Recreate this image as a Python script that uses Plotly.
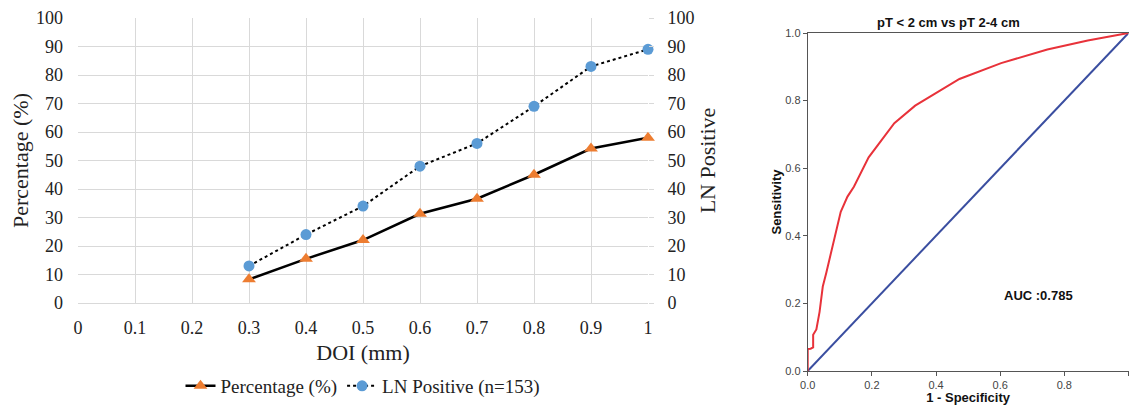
import plotly.graph_objects as go

# ---- Left panel data ----
doi = [0.3, 0.4, 0.5, 0.6, 0.7, 0.8, 0.9, 1.0]
percentage = [8.3, 15.5, 22.1, 31.3, 36.6, 45.0, 54.2, 58.0]
ln_positive = [13, 24, 34, 48, 56, 69, 83, 89]
x_ticks = [0, 0.1, 0.2, 0.3, 0.4, 0.5, 0.6, 0.7, 0.8, 0.9, 1.0]
x_tick_labels = ["0", "0.1", "0.2", "0.3", "0.4", "0.5", "0.6", "0.7", "0.8", "0.9", "1"]
y_ticks = [0, 10, 20, 30, 40, 50, 60, 70, 80, 90, 100]

# ---- Right panel (ROC) data ----
roc_fpr = [0.0, 0.0, 0.009, 0.017, 0.017, 0.027, 0.037, 0.047, 0.058, 0.103,
           0.124, 0.144, 0.19, 0.27, 0.335, 0.473, 0.603, 0.747, 0.873, 1.0]
roc_tpr = [0.0, 0.065, 0.066, 0.07, 0.107, 0.123, 0.175, 0.25, 0.291, 0.471,
           0.516, 0.545, 0.632, 0.733, 0.785, 0.864, 0.911, 0.951, 0.978, 1.0]
ref_line = [0.0, 1.0]
roc_ticks = [0.0, 0.2, 0.4, 0.6, 0.8, 1.0]

# page body has an 8px margin on every side; size the figure to fit inside it
OFF = 8
W, H = 1137 - 2 * OFF, 413 - 2 * OFF
def px_x(p):
    return (p - OFF) / W
def px_y(p):
    return (H - (p - OFF)) / H

serif = "Liberation Serif"
sans = "Liberation Sans"

fig = go.Figure()

fig.add_trace(go.Scatter(
    x=doi, y=percentage, name="Percentage (%)", mode="lines+markers",
    line=dict(color="#000000", width=2.5),
    marker=dict(symbol="triangle-up", color="#ed7d31", size=12),
    cliponaxis=False, xaxis="x", yaxis="y"))
fig.add_trace(go.Scatter(
    x=doi, y=ln_positive, name="LN Positive (n=153)", mode="lines+markers",
    line=dict(color="#000000", width=2, dash="dot"),
    marker=dict(symbol="circle", color="#5b9bd5", size=11),
    cliponaxis=False, xaxis="x", yaxis="y2"))

fig.add_trace(go.Scatter(
    x=ref_line, y=ref_line, mode="lines", showlegend=False,
    line=dict(color="#3a4ea0", width=2), xaxis="x3", yaxis="y3"))
fig.add_trace(go.Scatter(
    x=roc_fpr, y=roc_tpr, mode="lines", showlegend=False,
    line=dict(color="#e8323a", width=2), xaxis="x3", yaxis="y3"))

grid = "#d9d9d9"
left_dom_x = [px_x(78), px_x(648)]
left_dom_y = [px_y(303), px_y(18)]

fig.update_layout(
    width=W, height=H,
    margin=dict(l=0, r=0, t=0, b=0, autoexpand=False),
    paper_bgcolor="white", plot_bgcolor="white",
    showlegend=True,
    legend=dict(orientation="h", x=px_x(363), xanchor="center",
                y=px_y(386), yanchor="middle",
                font=dict(family=serif, size=19, color="#222"),
                itemwidth=30, bgcolor="rgba(0,0,0,0)"),
    xaxis=dict(domain=left_dom_x, anchor="y", range=[0, 1], automargin=False,
               tickvals=x_ticks, ticktext=x_tick_labels,
               showgrid=True, gridcolor=grid, gridwidth=1,
               zeroline=False, showline=True, linecolor=grid,
               ticks="", ticklabelstandoff=8,
               tickfont=dict(family=serif, size=18, color="#222"),
               title=dict(text="DOI (mm)", standoff=8,
                          font=dict(family=serif, size=22, color="#222"))),
    yaxis=dict(domain=left_dom_y, anchor="x", range=[0, 100], automargin=False,
               tickvals=y_ticks,
               showgrid=True, gridcolor=grid, gridwidth=1,
               zeroline=False, showline=False,
               ticks="", ticklabelstandoff=14,
               tickfont=dict(family=serif, size=18, color="#222"),
               title=dict(text="Percentage (%)", standoff=4,
                          font=dict(family=serif, size=22, color="#222"))),
    yaxis2=dict(overlaying="y", side="right", anchor="x", range=[0, 100],
                automargin=False,
                tickvals=y_ticks, showgrid=False, zeroline=False,
                showline=False, ticks="outside", ticklen=5, tickcolor=grid,
                ticklabelstandoff=10,
                tickfont=dict(family=serif, size=18, color="#222"),
                title=dict(text="LN Positive", standoff=6,
                           font=dict(family=serif, size=22, color="#222"))),
    xaxis3=dict(domain=[px_x(807.7), px_x(1128.5)], anchor="y3", automargin=False,
                range=[0, 1], tickvals=roc_ticks, tickformat=".1f",
                showgrid=False, zeroline=False, showline=True, mirror=True,
                linecolor="#555", linewidth=1, ticks="outside", ticklen=4,
                tickcolor="#555",
                tickfont=dict(family=sans, size=11, color="#444"),
                title=dict(text="<b>1 - Specificity</b>", standoff=4,
                           font=dict(family=sans, size=13, color="#111"))),
    yaxis3=dict(domain=[px_y(371), px_y(33)], anchor="x3", automargin=False,
                range=[0, 1], tickvals=roc_ticks, tickformat=".1f",
                showgrid=False, zeroline=False, showline=True, mirror=True,
                linecolor="#555", linewidth=1, ticks="outside", ticklen=4,
                tickcolor="#555",
                tickfont=dict(family=sans, size=11, color="#444"),
                title=dict(text="<b>Sensitivity</b>", standoff=0,
                           font=dict(family=sans, size=13, color="#111"))),
    annotations=[
        dict(text="<b>pT &lt; 2 cm vs pT 2-4 cm</b>", xref="paper", yref="paper",
             x=px_x(949), y=px_y(23), xanchor="center", yanchor="middle",
             showarrow=False, font=dict(family=sans, size=13, color="#111")),
        dict(text="<b>AUC :0.785</b>", xref="x3", yref="y3",
             x=0.72, y=0.222, xanchor="center", yanchor="middle",
             showarrow=False, font=dict(family=sans, size=13, color="#111")),
    ],
)

fig.write_html("out.html")
